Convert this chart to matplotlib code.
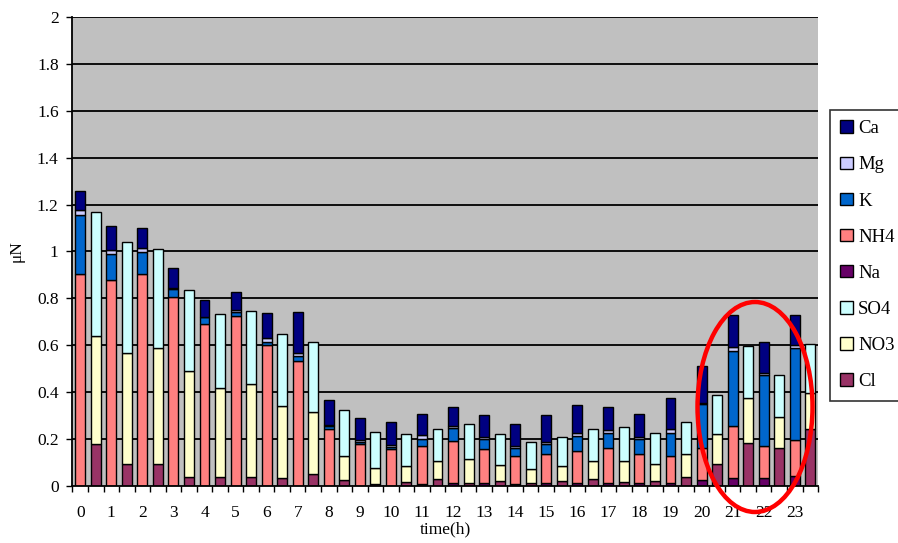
import matplotlib
matplotlib.use("Agg")
import matplotlib.pyplot as plt
import numpy as np
from matplotlib.patches import Patch, Ellipse

plt.rcParams['font.family'] = ['Liberation Serif', 'DejaVu Serif']

hours = list(range(24))

# cation bar (stack order bottom -> top)
Na  = [0, 0, 0, 0, 0, 0, 0, 0, 0, 0, 0, 0.008, 0.014, 0.014, 0.009, 0.014, 0.014, 0.014, 0.014, 0.014, 0.026, 0.036, 0.036, 0.044]
NH4 = [0.906, 0.877, 0.906, 0.805, 0.691, 0.726, 0.603, 0.531, 0.242, 0.178, 0.157, 0.163, 0.178, 0.144, 0.119, 0.121, 0.137, 0.147, 0.121, 0.114, 0.135, 0.220, 0.135, 0.150]
K   = [0.249, 0.114, 0.093, 0.035, 0.028, 0.015, 0.012, 0.022, 0.012, 0.011, 0.011, 0.029, 0.054, 0.043, 0.033, 0.044, 0.063, 0.064, 0.064, 0.100, 0.188, 0.318, 0.303, 0.394]
Mg  = [0.020, 0.015, 0.014, 0.006, 0.003, 0.011, 0.018, 0.014, 0.004, 0.005, 0.006, 0.019, 0.008, 0.006, 0.010, 0.010, 0.011, 0.014, 0.009, 0.014, 0.007, 0.019, 0.007, 0.012]
Ca  = [0.085, 0.102, 0.088, 0.083, 0.073, 0.076, 0.105, 0.175, 0.110, 0.094, 0.098, 0.089, 0.082, 0.096, 0.094, 0.114, 0.121, 0.097, 0.100, 0.133, 0.157, 0.135, 0.132, 0.128]

# anion bar (stack order bottom -> top)
Cl  = [0.179, 0.094, 0.094, 0.040, 0.037, 0.037, 0.033, 0.050, 0.026, 0.007, 0.019, 0.028, 0.014, 0.023, 0.014, 0.021, 0.028, 0.019, 0.021, 0.040, 0.093, 0.185, 0.161, 0.242]
NO3 = [0.462, 0.474, 0.494, 0.449, 0.379, 0.399, 0.310, 0.265, 0.102, 0.071, 0.066, 0.079, 0.100, 0.067, 0.057, 0.064, 0.079, 0.089, 0.073, 0.095, 0.128, 0.190, 0.132, 0.154]
SO4 = [0.527, 0.474, 0.421, 0.346, 0.319, 0.312, 0.305, 0.298, 0.194, 0.151, 0.137, 0.137, 0.151, 0.132, 0.116, 0.123, 0.135, 0.143, 0.134, 0.137, 0.165, 0.220, 0.181, 0.209]

cation_names = ['Na', 'NH4', 'K', 'Mg', 'Ca']
cation_vals = [Na, NH4, K, Mg, Ca]
anion_names = ['Cl', 'NO3', 'SO4']
anion_vals = [Cl, NO3, SO4]

colors = {'Ca': '#000080', 'Mg': '#CCCCFF', 'K': '#0066CC', 'NH4': '#FF8080',
          'Na': '#660066', 'SO4': '#CCFFFF', 'NO3': '#FFFFCC', 'Cl': '#993366'}

fig = plt.figure(figsize=(8.98, 5.43), dpi=100)
ax = fig.add_axes([0.0807, 0.105, 0.911 - 0.0807, 0.8637])
ax.set_facecolor('#C0C0C0')

yticks = np.arange(0, 2.01, 0.2)
for yv in yticks[1:]:
    ax.axhline(yv, color='black', linewidth=1.3, zorder=1)

xc = np.arange(24) * 2
xa = xc + 1
w = 0.64

bottom = np.zeros(24)
for name, vals in zip(cation_names, cation_vals):
    ax.bar(xc, vals, w, bottom=bottom, color=colors[name], edgecolor='black', linewidth=1.0, zorder=3)
    bottom += np.array(vals)

bottom = np.zeros(24)
for name, vals in zip(anion_names, anion_vals):
    ax.bar(xa, vals, w, bottom=bottom, color=colors[name], edgecolor='black', linewidth=1.0, zorder=3)
    bottom += np.array(vals)

ax.set_xlim(-0.5, 47.5)
ax.set_ylim(0, 2)
ax.set_yticks(yticks)
ax.set_yticklabels(['0', '0.2', '0.4', '0.6', '0.8', '1', '1.2', '1.4', '1.6', '1.8', '2'], fontsize=12.5)

ax.set_xticks(xc)
ax.set_xticklabels([str(h) for h in hours], fontsize=12.5)
ax.set_xticks(np.arange(-0.5, 48, 1), minor=True)
ax.tick_params(axis='x', which='major', length=0, pad=14)
ax.tick_params(axis='x', which='minor', length=4, width=1, direction='out')
ax.tick_params(axis='y', length=4, width=1, direction='out', pad=6)

for s in ['right', 'top']:
    ax.spines[s].set_visible(False)
ax.spines['left'].set_linewidth(1.3)
ax.spines['bottom'].set_linewidth(1.3)
ax.spines['left'].set_zorder(4)
ax.spines['bottom'].set_zorder(4)

ax.set_xlabel('time(h)', fontsize=12.5, labelpad=0)
ax.set_ylabel('μN', fontsize=12.5, labelpad=9)

legend_order = ['Ca', 'Mg', 'K', 'NH4', 'Na', 'SO4', 'NO3', 'Cl']
handles = [Patch(facecolor=colors[n], edgecolor='black', linewidth=1.0) for n in legend_order]
leg = fig.legend(handles, legend_order, loc='upper left', bbox_to_anchor=(830 / 898, 1 - 110 / 543),
                 fontsize=13.5, frameon=True, fancybox=False, edgecolor='black', labelspacing=1.02,
                 handlelength=0.65, handleheight=0.65, handletextpad=0.3, borderpad=0.55, borderaxespad=0)
leg.get_frame().set_linewidth(1.2)

ell = Ellipse((755 / 898, 1 - 407 / 543), 115 / 898, 210 / 543, transform=fig.transFigure,
              fill=False, edgecolor='red', linewidth=3.2, zorder=10)
fig.patches.append(ell)

fig.savefig('out.png', dpi=100)
